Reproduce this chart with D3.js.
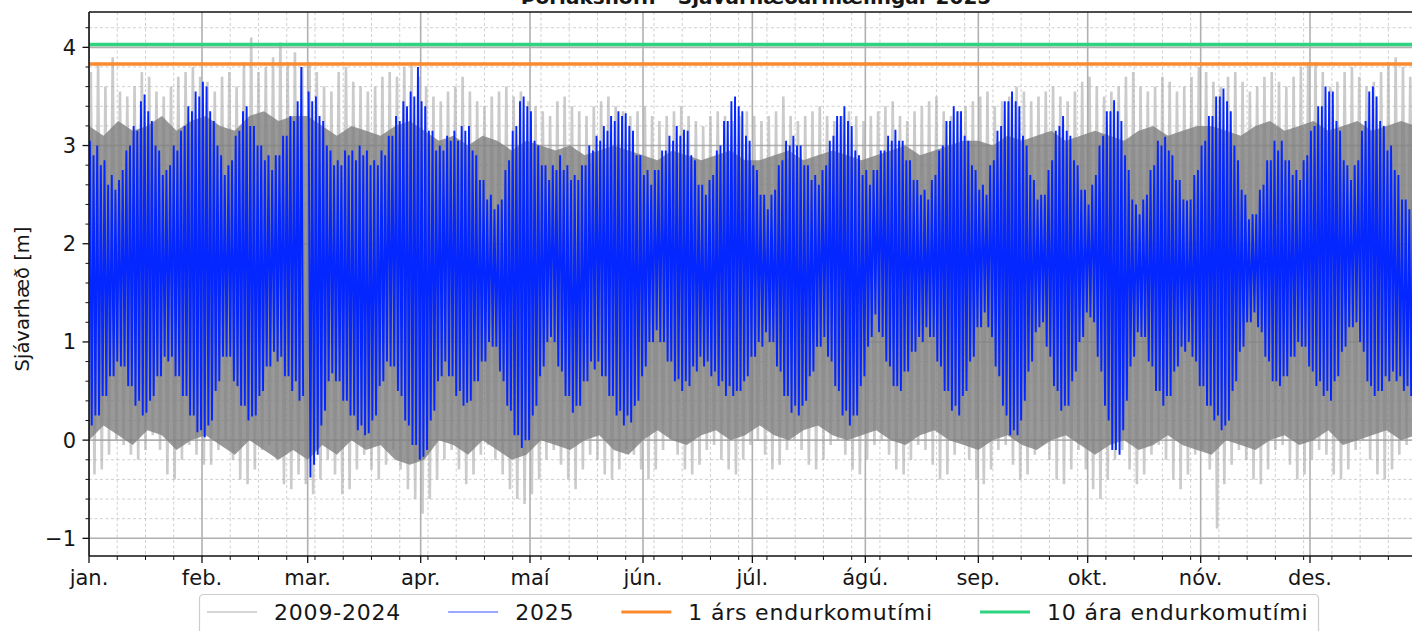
<!DOCTYPE html>
<html>
<head>
<meta charset="utf-8">
<script src="https://cdn.jsdelivr.net/npm/d3@7"></script>
<style>
  body { margin: 0; background: #fff; }
  svg text { font-family: "DejaVu Sans", sans-serif; fill: #161616; }
</style>
</head>
<body>
<svg id="chart" width="1412" height="631"></svg>
<script>
const MONTH_LABELS = ["jan.", "feb.", "mar.", "apr.", "maí", "jún.", "júl.", "ágú.", "sep.", "okt.", "nóv.", "des."];
const Y_TICKS = [-1, 0, 1, 2, 3, 4];
const SERIES_NAMES = ["2009-2024", "2025"];
const RETURN_NAMES = ["1 árs endurkomutími", "10 ára endurkomutími"];
const RETURN_LEVELS = [3.83, 4.03]; // m

// 2025, one high and one low per day (day 0 = 1. jan, leap-year axis, no 29. feb)
const blueHigh = [
  3.05, 2.9, 3.0, 2.8, 2.85, 2.6, 2.7, 2.55, 2.65, 2.75,
  2.95, 3.0, 3.2, 3.15, 3.45, 3.52, 3.35, 3.25, 3.0, 2.95,
  2.7, 2.75, 2.8, 3.0, 2.95, 3.15, 3.2, 3.4, 3.35, 3.55,
  3.5, 3.65, 3.6, 3.35, 3.25, 3.0, 2.9, 2.7, 2.8, 2.85,
  3.1, 3.15, 3.35, 3.4, 3.2, 3.2, 3.0, 3.0, 2.85, 2.9,
  2.75, 2.9, 2.9, 3.1, 3.1, 3.3, 3.25, 3.45, 3.8, NaN,
  3.55, 3.45, 3.5, 3.3, 3.25, 3.0, 2.95, 2.8, 2.85, 2.8,
  2.95, 2.9, 2.95, 2.85, 3.0, 2.9, 2.95, 2.8, 2.85, 2.8,
  2.95, 2.9, 3.1, 3.1, 3.3, 3.25, 3.45, 3.4, 3.55, 3.5,
  3.8, 3.45, 3.4, 3.15, 3.15, 2.95, 3.0, 2.95, 3.1, 3.05,
  3.15, 3.05, 3.2, 3.15, 3.2, 2.95, 2.9, 2.65, 2.65, 2.45,
  2.5, 2.35, 2.4, 2.45, 2.75, 2.85, 3.15, 3.2, 3.45, 3.5,
  3.4, 3.35, 3.05, 3.0, 2.8, 2.8, 2.65, 2.8, 2.75, 2.9,
  2.75, 2.8, 2.65, 2.7, 2.65, 2.8, 2.8, 3.0, 2.95, 3.1,
  3.05, 3.2, 3.15, 3.3, 3.25, 3.35, 3.3, 3.33, 3.2, 3.15,
  2.9, 2.9, 2.7, 2.75, 2.6, 2.75, 2.75, 2.95, 2.95, 3.1,
  3.05, 3.2, 3.1, 3.16, 3.15, 2.9, 2.85, 2.6, 2.6, 2.5,
  2.65, 2.7, 2.95, 3.0, 3.25, 3.25, 3.45, 3.5, 3.4, 3.35,
  3.1, 3.05, 2.8, 2.75, 2.5, 2.5, 2.35, 2.5, 2.55, 2.8,
  2.85, 3.05, 3.0, 3.1, 3.0, 3.0, 2.8, 2.8, 2.65, 2.7,
  2.6, 2.75, 2.8, 3.05, 3.1, 3.3, 3.3, 3.4, 3.25, 3.2,
  2.95, 2.9, 2.7, 2.75, 2.6, 2.75, 2.75, 2.95, 2.95, 3.1,
  3.05, 3.16, 3.05, 3.05, 2.85, 2.85, 2.65, 2.65, 2.5, 2.55,
  2.45, 2.65, 2.7, 2.95, 3.0, 3.25, 3.25, 3.4, 3.35, 3.35,
  3.1, 3.05, 2.8, 2.75, 2.55, 2.6, 2.5, 2.8, 2.85, 3.15,
  3.2, 3.45, 3.45, 3.55, 3.45, 3.4, 3.1, 3.0, 2.7, 2.65,
  2.45, 2.5, 2.5, 2.75, 2.85, 3.15, 3.2, 3.3, 3.15, 3.1,
  2.85, 2.8, 2.55, 2.55, 2.4, 2.6, 2.7, 3.0, 3.1, 3.35,
  3.35, 3.46, 3.35, 3.25, 2.9, 2.75, 2.45, 2.4, 2.3, 2.45,
  2.5, 2.75, 2.8, 3.05, 3.0, 3.09, 2.95, 2.9, 2.65, 2.65,
  2.45, 2.44, 2.45, 2.7, 2.75, 3.0, 3.05, 3.3, 3.3, 3.5,
  3.5, 3.58, 3.45, 3.35, 3.0, 2.85, 2.55, 2.5, 2.25, 2.3,
  2.3, 2.55, 2.6, 2.85, 2.85, 3.05, 2.95, 3.05, 2.85, 2.85,
  2.7, 2.75, 2.65, 2.85, 2.9, 3.15, 3.2, 3.4, 3.4, 3.6,
  3.55, 3.55, 3.25, 3.15, 2.85, 2.8, 2.65, 2.8, 2.85, 3.15,
  3.25, 3.55, 3.6, 3.5, 3.25, 3.2, 2.95, 3.0, 2.75, 2.7,
  2.45, 2.45, 2.35, 2.5, 2.5
];
const blueLow = [
  0.15, 0.25, 0.25, 0.45, 0.45, 0.65, 0.65, 0.8, 0.75, 0.75,
  0.55, 0.55, 0.35, 0.4, 0.25, 0.28, 0.4, 0.45, 0.65, 0.65,
  0.85, 0.8, 0.85, 0.65, 0.65, 0.45, 0.45, 0.25, 0.25, 0.08,
  0.1, 0.03, 0.15, 0.2, 0.5, 0.6, 0.85, 0.85, 0.85, 0.6,
  0.55, 0.35, 0.35, 0.2, 0.24, 0.25, 0.45, 0.5, 0.75, 0.75,
  0.9, 0.8, 0.85, 0.65, 0.65, 0.5, 0.6, 0.4, 0.45, NaN,
  -0.38, -0.25, -0.15, 0.15, 0.3, 0.6, 0.68, 0.6, 0.6, 0.4,
  0.4, 0.25, 0.25, 0.1, 0.15, 0.05, 0.07, 0.2, 0.25, 0.55,
  0.6, 0.8, 0.75, 0.75, 0.5, 0.45, 0.2, 0.15, -0.05, -0.05,
  -0.2, -0.17, -0.1, 0.2, 0.3, 0.6, 0.65, 0.8, 0.65, 0.65,
  0.45, 0.5, 0.35, 0.38, 0.4, 0.6, 0.6, 0.8, 0.8, 1.0,
  0.95, 0.95, 0.7, 0.6, 0.35, 0.3, 0.05, 0.05, -0.08, 0.0,
  0.0, 0.25, 0.35, 0.65, 0.75, 1.0, 1.05, 1.0, 0.75, 0.7,
  0.45, 0.45, 0.28, 0.35, 0.35, 0.6, 0.6, 0.8, 0.72, 0.8,
  0.65, 0.65, 0.45, 0.45, 0.25, 0.3, 0.15, 0.25, 0.18, 0.35,
  0.4, 0.65, 0.75, 1.0, 1.0, 1.12, 1.0, 1.0, 0.8, 0.8,
  0.6, 0.62, 0.5, 0.6, 0.55, 0.75, 0.7, 0.85, 0.75, 0.8,
  0.65, 0.7, 0.55, 0.6, 0.45, 0.55, 0.45, 0.5, 0.5, 0.6,
  0.65, 0.85, 0.85, 1.0, 0.95, 1.1, 1.0, 1.0, 0.75, 0.7,
  0.45, 0.45, 0.28, 0.35, 0.25, 0.35, 0.4, 0.65, 0.7, 0.95,
  0.95, 1.05, 0.85, 0.8, 0.55, 0.5, 0.25, 0.3, 0.15, 0.25,
  0.25, 0.55, 0.65, 0.95, 1.05, 1.28, 1.1, 1.05, 0.8, 0.75,
  0.55, 0.55, 0.5, 0.7, 0.7, 0.9, 0.9, 1.05, 1.0, 1.15,
  1.05, 1.05, 0.8, 0.75, 0.5, 0.5, 0.3, 0.35, 0.25, 0.45,
  0.5, 0.8, 0.85, 1.15, 1.15, 1.3, 1.15, 1.05, 0.75, 0.65,
  0.35, 0.25, 0.05, 0.1, 0.05, 0.2, 0.4, 0.7, 0.8, 1.1,
  1.15, 1.2, 0.95, 0.85, 0.55, 0.5, 0.3, 0.35, 0.35, 0.6,
  0.7, 1.0, 1.05, 1.3, 1.25, 1.2, 0.85, 0.7, 0.35, 0.2,
  -0.1, -0.1, -0.15, 0.1, 0.4, 0.75, 0.85, 1.1, 1.05, 1.05,
  0.8, 0.75, 0.5, 0.5, 0.35, 0.45, 0.45, 0.7, 0.75, 0.95,
  0.9, 1.0, 0.85, 0.8, 0.55, 0.55, 0.35, 0.35, 0.2, 0.25,
  0.1, 0.15, 0.2, 0.5, 0.6, 0.9, 0.95, 1.2, 1.2, 1.3,
  1.15, 1.1, 0.85, 0.8, 0.6, 0.6, 0.55, 0.65, 0.65, 0.85,
  0.85, 1.0, 0.95, 0.95, 0.75, 0.7, 0.55, 0.6, 0.45, 0.5,
  0.4, 0.6, 0.65, 0.9, 0.95, 1.15, 1.15, 1.2, 1.0, 0.9,
  0.6, 0.55, 0.45, 0.5, 0.5, 0.65, 0.6, 0.7, 0.6, 0.65,
  0.5, 0.55, 0.45, 0.6, 0.55
];

// 2009-2024, outer extremes every 2nd day
const grayHigh = [
  3.75, 3.85, 3.6, 3.9, 3.55, 3.5, 3.6, 3.75, 3.7, 3.55, 3.5, 3.6, 3.7, 3.75, 3.8, 3.7,
  3.65, 3.55, 3.7, 3.75, 3.6, 3.85, 4.1, 3.75, 3.8, 3.9, 4.05, 3.85, 3.95, 3.8,
  3.85, 3.75, 3.6, 3.55, 3.75, 3.8, 3.65, 3.6, 3.55, 3.6, 3.7, 3.75, 3.7, 3.8, 3.85, 3.7,
  3.6, 3.5, 3.45, 3.55, 3.6, 3.7, 3.55, 3.45, 3.4, 3.5, 3.55, 3.6, 3.5, 3.55, 3.45,
  3.4, 3.35, 3.3, 3.45, 3.5, 3.4, 3.35, 3.3, 3.4, 3.45, 3.5, 3.4, 3.35, 3.3, 3.35,
  3.4, 3.3, 3.25, 3.3, 3.35, 3.4, 3.3, 3.25, 3.2, 3.3, 3.35, 3.3, 3.25, 3.3, 3.35,
  3.3, 3.25, 3.3, 3.35, 3.5, 3.3, 3.25, 3.3, 3.35, 3.4, 3.3, 3.25, 3.3, 3.35, 3.3, 3.25,
  3.3, 3.35, 3.4, 3.45, 3.3, 3.25, 3.35, 3.4, 3.45, 3.5, 3.35, 3.3, 3.35, 3.4, 3.45,
  3.5, 3.55, 3.4, 3.45, 3.5, 3.6, 3.55, 3.45, 3.5, 3.55, 3.6, 3.5, 3.45, 3.55, 3.65,
  3.7, 3.6, 3.5, 3.55, 3.6, 3.7, 3.75, 3.6, 3.55, 3.6, 3.7, 3.65, 3.55, 3.6, 3.7, 3.8,
  3.75, 3.65, 3.6, 3.7, 3.75, 3.65, 3.55, 3.6, 3.7, 3.75, 3.65, 3.6, 3.7, 3.8, 3.85,
  3.85, 3.75, 3.6, 3.65, 3.75, 3.8, 3.7, 3.6, 3.65, 3.75, 3.85, 3.9, 3.8, 3.7, 3.6
];
const grayLow = [
  -0.35, -0.3, -0.15, 0.0, -0.05, -0.15, -0.2, -0.1, 0.05, -0.1, -0.35, -0.4, -0.2, -0.05, -0.15, -0.25,
  -0.25, -0.1, 0.0, -0.2, -0.4, -0.45, -0.3, -0.1, -0.05, -0.2, -0.45, -0.5, -0.35, -0.45,
  -0.55, -0.4, -0.2, -0.35, -0.55, -0.5, -0.3, -0.15, -0.3, -0.4, -0.25, -0.1, -0.3, -0.5, -0.6, -0.75,
  -0.6, -0.4, -0.2, -0.1, -0.3, -0.45, -0.35, -0.15, -0.05, -0.2, -0.35, -0.5, -0.6, -0.65, -0.55,
  -0.4, -0.2, -0.1, -0.25, -0.4, -0.5, -0.3, -0.15, -0.2, -0.35, -0.4, -0.3, -0.1, -0.15, -0.3,
  -0.4, -0.3, -0.1, 0.0, -0.15, -0.3, -0.35, -0.25, -0.1, -0.05, -0.2, -0.3, -0.35, -0.2, -0.05,
  0.0, -0.15, -0.3, -0.25, -0.1, 0.0, -0.1, -0.25, -0.3, -0.2, -0.05, 0.0, -0.15, -0.3, -0.35, -0.2,
  -0.05, 0.0, -0.15, -0.3, -0.35, -0.2, -0.05, -0.1, -0.25, -0.4, -0.35, -0.15, 0.0, -0.2, -0.4,
  -0.45, -0.3, -0.1, -0.05, -0.25, -0.4, -0.35, -0.15, -0.05, -0.2, -0.4, -0.45, -0.3, -0.1, -0.3,
  -0.5, -0.6, -0.4, -0.2, -0.1, -0.3, -0.45, -0.35, -0.15, -0.05, -0.2, -0.4, -0.5, -0.35, -0.15, -0.1,
  -0.3, -0.9, -0.45, -0.25, -0.1, -0.2, -0.4, -0.45, -0.3, -0.1, -0.05, -0.25, -0.4, -0.35, -0.2,
  -0.1, -0.15, -0.35, -0.4, -0.3, -0.1, 0.0, -0.2, -0.35, -0.4, -0.3, -0.15, -0.05, -0.2, -0.35
];

// 2009-2024, where most years overlap, every 4th day
const coreHigh = [
  3.2, 3.1, 3.25, 3.15, 3.2, 3.3, 3.15, 3.25,
  3.3, 3.2, 3.15, 3.3, 3.35, 3.25, 3.3,
  3.3, 3.2, 3.1, 3.2, 3.15, 3.1, 3.2, 3.25,
  3.15, 3.05, 3.1, 3.0, 3.1, 3.05, 2.95, 3.05,
  3.0, 2.95, 3.0, 2.9, 2.95, 3.0, 2.95,
  2.9, 2.85, 2.95, 2.9, 2.85, 2.9, 2.95, 2.85,
  2.85, 2.9, 2.95, 2.85, 2.9, 2.95, 2.9, 2.85,
  2.9, 2.95, 3.0, 2.9, 2.95, 3.0, 3.05,
  3.05, 3.0, 3.1, 3.05, 3.1, 3.15, 3.05, 3.1,
  3.15, 3.1, 3.05, 3.15, 3.2, 3.1, 3.15, 3.2,
  3.2, 3.15, 3.1, 3.2, 3.25, 3.15, 3.2,
  3.25, 3.15, 3.2, 3.25, 3.15, 3.2, 3.25, 3.2
];
const coreLow = [
  0.0, 0.15, 0.05, -0.05, 0.1, 0.05, -0.1, 0.0,
  0.05, -0.05, -0.15, 0.0, -0.1, -0.2, -0.1,
  -0.2, -0.05, -0.15, 0.0, -0.1, -0.05, -0.2, -0.25,
  -0.2, 0.0, -0.05, -0.15, 0.0, -0.1, -0.2, -0.15,
  0.0, -0.05, -0.1, 0.0, 0.05, -0.1, -0.15,
  0.0, 0.1, 0.0, -0.05, 0.05, 0.1, 0.0, 0.05,
  0.15, 0.05, 0.0, 0.1, 0.15, 0.05, 0.0, 0.05,
  0.1, 0.0, -0.05, 0.05, 0.1, 0.0, -0.05,
  -0.1, 0.0, 0.05, -0.05, -0.1, 0.0, 0.05, -0.05,
  -0.15, -0.05, 0.0, -0.1, -0.05, 0.05, -0.05, -0.1,
  -0.15, 0.0, -0.05, -0.1, 0.0, 0.05, -0.05,
  0.0, 0.1, -0.05, 0.0, 0.05, 0.1, 0.0, 0.05
];

const COLORS = {
  gray: "#a0a0a0", core: "#808080", blue: "#0426ff",
  legendGray: "#c9c9c9", legendBlue: "#7b8bff",
  levels: ["#fb8a2c", "#2ed47f"]
};

const AX = { left: 89, right: 1423, top: 12, bottom: 556 };
const T0 = Date.UTC(2024, 0, 1);
const day = t => new Date(T0 + t * 864e5);

const svg = d3.select("#chart");

const x = d3.scaleUtc().domain([day(0), day(366)]).range([AX.left, AX.right]);
const y = d3.scaleLinear().domain([-1.18, 4.36]).range([AX.bottom, AX.top]);

svg.append("defs").append("clipPath").attr("id", "plotClip")
  .append("rect")
  .attr("x", AX.left).attr("y", AX.top)
  .attr("width", AX.right - AX.left).attr("height", AX.bottom - AX.top);

// ticks
const monthTicks = x.ticks(d3.utcMonth.every(1)).filter(d => d.getUTCFullYear() === 2024);
const monthDays = new Set(monthTicks.map(d => Math.round((d - T0) / 864e5)));
const minorStep = 31 / 4; // month step / 4, as the auto minor locator does
const xMinor = d3.range(0, 366, minorStep).filter(t => !monthDays.has(t)).map(day);
const yMinor = d3.range(-1.0, 4.3, 0.2).map(v => Math.round(v * 10) / 10)
  .filter(v => !Y_TICKS.includes(v));

// grid
const grid = svg.append("g").attr("clip-path", "url(#plotClip)");
grid.selectAll(".gx-minor").data(xMinor).enter().append("line")
  .attr("x1", d => x(d)).attr("x2", d => x(d))
  .attr("y1", AX.top).attr("y2", AX.bottom)
  .attr("stroke", "#c4c4c4").attr("stroke-width", 0.8).attr("stroke-dasharray", "3,2.5");
grid.selectAll(".gy-minor").data(yMinor).enter().append("line")
  .attr("x1", AX.left).attr("x2", AX.right)
  .attr("y1", d => y(d)).attr("y2", d => y(d))
  .attr("stroke", "#c4c4c4").attr("stroke-width", 0.8).attr("stroke-dasharray", "3,2.5");
grid.selectAll(".gx-major").data(monthTicks).enter().append("line")
  .attr("x1", d => x(d)).attr("x2", d => x(d))
  .attr("y1", AX.top).attr("y2", AX.bottom)
  .attr("stroke", "#b0b0b0").attr("stroke-width", 1.6);
grid.selectAll(".gy-major").data(Y_TICKS).enter().append("line")
  .attr("x1", AX.left).attr("x2", AX.right)
  .attr("y1", d => y(d)).attr("y2", d => y(d))
  .attr("stroke", "#b0b0b0").attr("stroke-width", 1.6);

// series
function zigzag(hi, lo, step, offHi, offLo) {
  const pts = [];
  hi.forEach((h, i) => {
    pts.push({ t: i * step + offHi, v: h });
    pts.push({ t: i * step + offLo, v: lo[i] });
  });
  return pts;
}
const line = d3.line()
  .defined(p => !isNaN(p.v))
  .x(p => x(day(p.t)))
  .y(p => y(p.v));

const plot = svg.append("g").attr("clip-path", "url(#plotClip)");

plot.append("path")
  .attr("d", line(zigzag(grayHigh, grayLow, 2, 0.5, 1.5)))
  .attr("fill", "none")
  .attr("stroke", COLORS.gray).attr("stroke-width", 2.6).attr("stroke-opacity", 0.55);

plot.append("path")
  .datum(coreHigh)
  .attr("d", d3.area()
    .x((d, i) => x(day(i * 4)))
    .y0((d, i) => y(coreLow[i]))
    .y1(d => y(d)))
  .attr("fill", COLORS.core).attr("fill-opacity", 0.8);

plot.append("path")
  .attr("d", line(zigzag(blueHigh, blueLow, 1, 0.25, 0.75)))
  .attr("fill", "none")
  .attr("stroke", COLORS.blue).attr("stroke-width", 1.9);

plot.selectAll(".level").data(RETURN_LEVELS).enter().append("line")
  .attr("x1", AX.left).attr("x2", AX.right)
  .attr("y1", d => y(d)).attr("y2", d => y(d))
  .attr("stroke", (d, i) => COLORS.levels[i]).attr("stroke-width", 3.5);

// axes
const axes = svg.append("g").attr("stroke", "#111");
axes.append("line").attr("x1", AX.left).attr("x2", AX.left).attr("y1", AX.top).attr("y2", AX.bottom).attr("stroke-width", 1.6);
axes.append("line").attr("x1", AX.left).attr("x2", AX.right).attr("y1", AX.bottom).attr("y2", AX.bottom).attr("stroke-width", 1.6);
axes.append("line").attr("x1", AX.left).attr("x2", AX.right).attr("y1", AX.top).attr("y2", AX.top).attr("stroke-width", 1.6);

axes.selectAll(".yt").data(Y_TICKS).enter().append("line")
  .attr("x1", AX.left - 6.5).attr("x2", AX.left).attr("y1", d => y(d)).attr("y2", d => y(d)).attr("stroke-width", 1.3);
axes.selectAll(".ytm").data(yMinor).enter().append("line")
  .attr("x1", AX.left - 3.5).attr("x2", AX.left).attr("y1", d => y(d)).attr("y2", d => y(d)).attr("stroke-width", 1);
axes.selectAll(".xt").data(monthTicks).enter().append("line")
  .attr("x1", d => x(d)).attr("x2", d => x(d)).attr("y1", AX.bottom).attr("y2", AX.bottom + 7).attr("stroke-width", 1.3);
axes.selectAll(".xtm").data(xMinor).enter().append("line")
  .attr("x1", d => x(d)).attr("x2", d => x(d)).attr("y1", AX.bottom).attr("y2", AX.bottom + 4).attr("stroke-width", 1);

svg.selectAll(".ylab").data(Y_TICKS).enter().append("text")
  .attr("x", AX.left - 13).attr("y", d => y(d))
  .attr("dy", "0.36em").attr("text-anchor", "end")
  .style("font-size", "21px")
  .text(d => d < 0 ? "\u2212" + Math.abs(d) : d);

svg.selectAll(".xlab").data(monthTicks).enter().append("text")
  .attr("x", d => x(d)).attr("y", 585)
  .attr("text-anchor", "middle")
  .style("font-size", "21px")
  .text((d, i) => MONTH_LABELS[i]);

svg.append("text")
  .attr("transform", `translate(29,299) rotate(-90)`)
  .attr("text-anchor", "middle")
  .style("font-size", "19.5px")
  .text("Sjávarhæð [m]");

svg.append("text")
  .attr("x", (AX.left + AX.right) / 2).attr("y", 4)
  .attr("text-anchor", "middle")
  .style("font-size", "20px").style("font-weight", "bold")
  .text("Þorlákshöfn - Sjávarhæðarmælingar 2025");

// legend
const legendItems = [
  { name: SERIES_NAMES[0], color: COLORS.legendGray, width: 1.5 },
  { name: SERIES_NAMES[1], color: COLORS.legendBlue, width: 1.5 },
  { name: RETURN_NAMES[0], color: COLORS.levels[0], width: 3 },
  { name: RETURN_NAMES[1], color: COLORS.levels[1], width: 3 }
];
const legend = svg.append("g");
const box = legend.append("rect")
  .attr("x", 199.5).attr("y", 594.5).attr("height", 60).attr("rx", 4)
  .attr("fill", "#fff").attr("fill-opacity", 0.85)
  .attr("stroke", "#cccccc").attr("stroke-width", 1.2);
let lx = 207;
legendItems.forEach(item => {
  legend.append("line")
    .attr("x1", lx).attr("x2", lx + 50).attr("y1", 612).attr("y2", 612)
    .attr("stroke", item.color).attr("stroke-width", item.width);
  const txt = legend.append("text")
    .attr("x", lx + 67).attr("y", 612).attr("dy", "0.36em")
    .style("font-size", "22px").style("letter-spacing", "0.8px")
    .text(item.name);
  lx = lx + 67 + txt.node().getComputedTextLength() + 47;
});
box.attr("width", lx - 47 + 10 - 199.5);
</script>
</body>
</html>
